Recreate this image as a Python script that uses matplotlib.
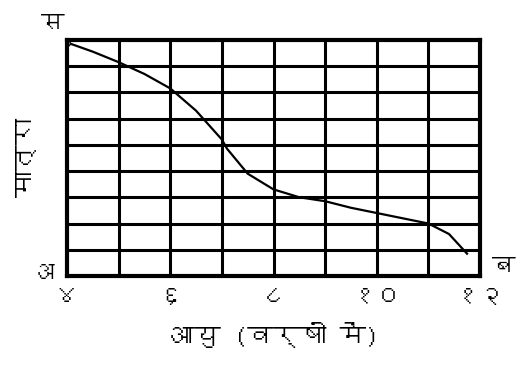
import matplotlib
matplotlib.use("Agg")
import matplotlib.pyplot as plt
from matplotlib import font_manager
from matplotlib.ft2font import FT2Font
import matplotlib.transforms as mtransforms

# ---- data ----
age_years = [4.0, 4.5, 5.0, 5.5, 6.0, 6.5, 7.0, 7.1, 7.5, 8.0, 8.5, 9.0, 9.5, 10.0, 10.5, 11.0, 11.4, 11.75]
amount = [8.9, 8.55, 8.15, 7.7, 7.15, 6.3, 5.2, 4.85, 3.9, 3.3, 3.0, 2.85, 2.6, 2.4, 2.2, 2.0, 1.6, 0.85]
x_ticks = [4, 6, 8, 10, 12]
x_tick_labels = ["४", "६", "८", "१०", "१२"]
x_label = "आयु (वर्षों में)"
y_label = "मात्रा"
corner_labels = {"top_left": "स", "bottom_left": "अ", "bottom_right": "ब"}

# find a font with Devanagari glyphs
deva_fonts = []
for f in font_manager.fontManager.ttflist:
    try:
        cm = FT2Font(f.fname).get_charmap()
        if 0x092E in cm:
            deva_fonts.append(f.name)
    except Exception:
        pass
family = list(dict.fromkeys(deva_fonts)) + ["DejaVu Sans"]

fig = plt.figure(figsize=(5.28, 3.66), dpi=100)
ax = fig.add_axes([0.127, 0.246, 0.782, 0.645])
ax.set_xlim(4, 12)
ax.set_ylim(0, 9)

for xv in range(5, 12):
    ax.axvline(xv, color="black", lw=2.2)
for yv in range(1, 9):
    ax.axhline(yv, color="black", lw=2.2)
for s in ax.spines.values():
    s.set_linewidth(3.0)

ax.plot(age_years, amount, color="black", lw=1.6)
ax.plot([age_years[0]], [amount[0]], marker="o", ms=4, mfc="white", mec="black", mew=1)

ax.set_xticks(x_ticks)
ax.set_xticklabels(x_tick_labels, family=family, fontsize=18, fontweight="bold")
offset = mtransforms.ScaledTranslation(6 / 100, 0, fig.dpi_scale_trans)
for lab in ax.get_xticklabels():
    lab.set_transform(lab.get_transform() + offset)
ax.set_yticks([])
ax.tick_params(axis="x", length=0, pad=7)
ax.set_xlabel(x_label, family=family, fontsize=19, fontweight="bold", labelpad=11)
ax.set_ylabel(y_label, family=family, fontsize=19, fontweight="bold", labelpad=22)

ax.text(-0.005, 1.03, corner_labels["top_left"], transform=ax.transAxes, family=family,
        fontsize=17, fontweight="bold", ha="right", va="bottom")
ax.text(-0.03, 0.01, corner_labels["bottom_left"], transform=ax.transAxes, family=family,
        fontsize=17, fontweight="bold", ha="right", va="center")
ax.text(1.03, 0.04, corner_labels["bottom_right"], transform=ax.transAxes, family=family,
        fontsize=17, fontweight="bold", ha="left", va="center")

fig.savefig("out.png", dpi=100)
